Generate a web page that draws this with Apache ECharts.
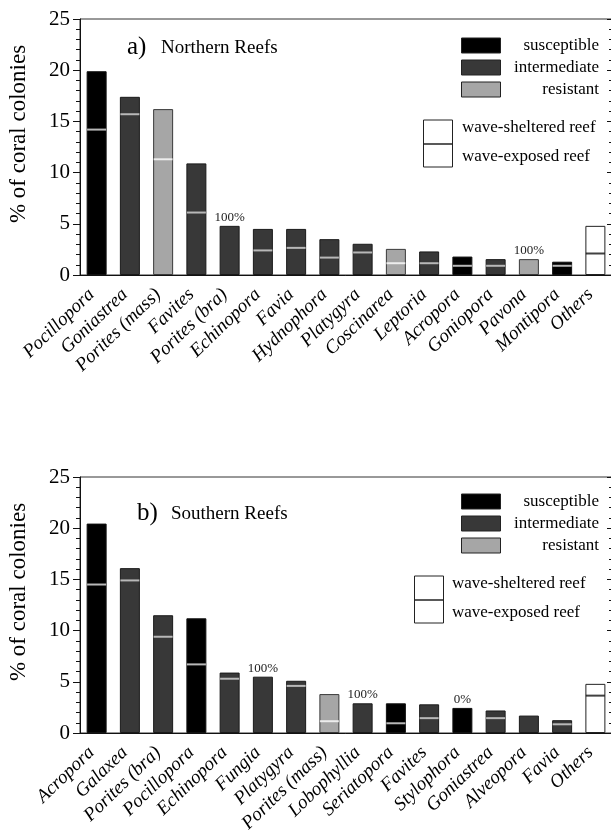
<!DOCTYPE html>
<html>
<head>
<meta charset="utf-8">
<script src="https://cdn.jsdelivr.net/npm/echarts@6/dist/echarts.min.js"></script>
<style>
  html, body { margin: 0; padding: 0; background: #fff; }
  #chart { width: 611px; height: 832px; }
</style>
</head>
<body>
<div id="chart"></div>
<script>
// Panel a) Northern reefs
const northCats = ['Pocillopora', 'Goniastrea', 'Porites (mass)', 'Favites', 'Porites (bra)', 'Echinopora', 'Favia', 'Hydnophora', 'Platygyra', 'Coscinarea', 'Leptoria', 'Acropora', 'Goniopora', 'Pavona', 'Montipora', 'Others'];
const northTotal = [19.9, 17.4, 16.2, 10.9, 4.8, 4.5, 4.5, 3.5, 3.05, 2.55, 2.3, 1.8, 1.55, 1.55, 1.3, 4.8];
// share below the split line = wave-exposed reef part
const northExposed = [14.2, 15.7, 11.3, 6.1, null, 2.4, 2.65, 1.7, 2.2, 1.15, 1.15, 0.9, 0.9, null, 0.9, 2.1];
const northClass = ['S', 'I', 'R', 'I', 'I', 'I', 'I', 'I', 'I', 'R', 'I', 'S', 'I', 'R', 'S', 'O'];
const northNotes = ['', '', '', '', '100%', '', '', '', '', '', '', '', '', '100%', '', ''];

// Panel b) Southern reefs
const southCats = ['Acropora', 'Galaxea', 'Porites (bra)', 'Pocillopora', 'Echinopora', 'Fungia', 'Platygyra', 'Porites (mass)', 'Lobophyllia', 'Seriatopora', 'Favites', 'Stylophora', 'Goniastrea', 'Alveopora', 'Favia', 'Others'];
const southTotal = [20.45, 16.1, 11.5, 11.2, 5.9, 5.5, 5.1, 3.8, 2.9, 2.9, 2.8, 2.45, 2.2, 1.7, 1.25, 4.8];
const southExposed = [14.5, 14.9, 9.4, 6.7, 5.3, null, 4.6, 1.15, null, 0.95, 1.45, null, 1.45, null, 0.85, 3.65];
const southClass = ['S', 'I', 'I', 'S', 'I', 'I', 'I', 'R', 'I', 'S', 'I', 'S', 'I', 'I', 'I', 'O'];
const southNotes = ['', '', '', '', '', '100%', '', '', '100%', '', '', '0%', '', '', '', ''];

const yTicks = [0, 5, 10, 15, 20, 25];

const SERIF = 'Liberation Serif';
const fill = { S: '#000000', I: '#383838', R: '#a6a6a6', O: '#ffffff' };
const edge = { S: '#111111', I: '#1a1a1a', R: '#3a3a3a', O: '#222222' };
const splitColor = { S: '#e6e6e6', I: '#d8d8d8', R: '#ffffff', O: '#111111' };

const BAR_W = 20;

function barSeries(idx, totals, classes, notes) {
  return {
    type: 'bar',
    xAxisIndex: idx, yAxisIndex: idx * 2,
    barWidth: BAR_W,
    data: totals.map((v, i) => ({
      value: v,
      itemStyle: { color: fill[classes[i]], borderColor: edge[classes[i]], borderWidth: 1 }
    })),
    label: {
      show: true, position: 'top', distance: 2,
      fontFamily: SERIF, fontSize: 13, color: '#222',
      formatter: p => notes[p.dataIndex]
    },
    z: 2
  };
}

function splitSeries(idx, exposed, classes) {
  const pts = [];
  exposed.forEach((v, i) => {
    if (v !== null) pts.push({ value: [i, v], itemStyle: { color: splitColor[classes[i]] } });
  });
  return {
    type: 'scatter',
    xAxisIndex: idx, yAxisIndex: idx * 2,
    symbol: 'rect', symbolSize: [BAR_W - 1, 2],
    data: pts, z: 3, silent: true
  };
}

function xAxis(idx, cats) {
  return {
    type: 'category', gridIndex: idx, data: cats,
    axisLine: { lineStyle: { color: '#111', width: 1 } },
    axisTick: { show: false },
    axisLabel: {
      interval: 0, rotate: 44, margin: 12, padding: [0, 7, 0, 0],
      fontFamily: SERIF, fontStyle: 'italic', fontSize: 19, color: '#000'
    }
  };
}

function yAxes(idx) {
  const common = {
    type: 'value', gridIndex: idx, min: yTicks[0], max: yTicks[yTicks.length - 1], interval: 5,
    splitLine: { show: false },
    axisLine: { show: true, lineStyle: { color: '#111', width: 1 } }
  };
  return [
    Object.assign({}, common, {
      position: 'left',
      name: '% of coral colonies', nameLocation: 'middle', nameGap: 50, nameRotate: 90,
      nameTextStyle: { fontFamily: SERIF, fontSize: 23, color: '#000', padding: [0, 0, 0, 26] },
      axisTick: { show: true, inside: false, length: 7, lineStyle: { color: '#111' } },
      minorTick: { show: true, splitNumber: 5, length: 4, lineStyle: { color: '#111' } },
      axisLabel: { fontFamily: SERIF, fontSize: 21, color: '#000', margin: 10 }
    }),
    Object.assign({}, common, {
      position: 'right',
      axisTick: { show: true, inside: true, length: 5, lineStyle: { color: '#111' } },
      minorTick: { show: true, splitNumber: 5, length: 3, lineStyle: { color: '#111' } },
      axisLabel: { show: false }
    })
  ];
}

// Legend block drawn at a given vertical offset
function legendGraphics(y0, boxX, txtX) {
  const g = [];
  const rows = [['susceptible', 'S'], ['intermediate', 'I'], ['resistant', 'R']];
  rows.forEach((r, i) => {
    const top = y0 + i * 22;
    g.push({ type: 'rect', shape: { x: 461.5, y: top + 0.5, width: 39, height: 15 },
      style: { fill: fill[r[1]], stroke: '#222', lineWidth: 1 } });
    g.push({ type: 'text', x: 599, y: top + 8,
      style: { text: r[0], fill: '#000', font: '17px "' + SERIF + '"', align: 'right', verticalAlign: 'middle' } });
  });
  const wy = y0 + 82;
  g.push({ type: 'rect', shape: { x: boxX + 0.5, y: wy + 0.5, width: 29, height: 47 },
    style: { fill: '#fff', stroke: '#222', lineWidth: 1 } });
  g.push({ type: 'line', shape: { x1: boxX, y1: wy + 24.5, x2: boxX + 30, y2: wy + 24.5 },
    style: { stroke: '#222', lineWidth: 1.5 } });
  g.push({ type: 'text', x: txtX, y: wy + 8,
    style: { text: 'wave-sheltered reef', fill: '#000', font: '17px "' + SERIF + '"', verticalAlign: 'middle' } });
  g.push({ type: 'text', x: txtX, y: wy + 37,
    style: { text: 'wave-exposed reef', fill: '#000', font: '17px "' + SERIF + '"', verticalAlign: 'middle' } });
  return g;
}

function panelTitle(letter, text, x, y) {
  return [
    { type: 'text', x: x, y: y,
      style: { text: letter, fill: '#000', font: '25px "' + SERIF + '"', verticalAlign: 'middle' } },
    { type: 'text', x: x + 34, y: y + 1,
      style: { text: text, fill: '#000', font: '19px "' + SERIF + '"', verticalAlign: 'middle' } }
  ];
}

const chart = echarts.init(document.getElementById('chart'), null, { renderer: 'canvas' });
const yA = yAxes(0), yB = yAxes(1);

chart.setOption({
  animation: false,
  backgroundColor: '#fff',
  grid: [
    { left: 80, top: 19, width: 532, height: 256, outerBoundsMode: 'none', containLabel: false,
      show: true, borderColor: '#333', borderWidth: 1, backgroundColor: 'transparent' },
    { left: 80, top: 477, width: 532, height: 256, outerBoundsMode: 'none', containLabel: false,
      show: true, borderColor: '#333', borderWidth: 1, backgroundColor: 'transparent' }
  ],
  xAxis: [xAxis(0, northCats), xAxis(1, southCats)],
  yAxis: [yA[0], yA[1], yB[0], yB[1]],
  series: [
    barSeries(0, northTotal, northClass, northNotes),
    splitSeries(0, northExposed, northClass),
    barSeries(1, southTotal, southClass, southNotes),
    splitSeries(1, southExposed, southClass)
  ],
  graphic: [].concat(
    panelTitle('a)', 'Northern Reefs', 127, 47),
    panelTitle('b)', 'Southern Reefs', 137, 513),
    legendGraphics(37.5, 423, 462),
    legendGraphics(493.5, 414, 452)
  )
});
</script>
</body>
</html>
